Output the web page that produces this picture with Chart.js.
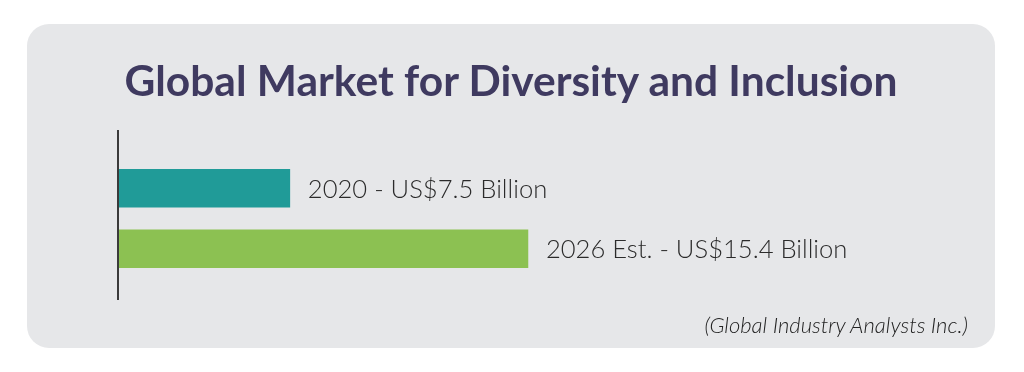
<!DOCTYPE html>
<html>
<head>
<meta charset="utf-8">
<script src="https://cdn.jsdelivr.net/npm/chart.js@4"></script>
<style>
  html, body { margin: 0; padding: 0; background: #fff; }
  body { width: 1024px; height: 372px; position: relative; overflow: hidden; }
  #panel {
    position: absolute; left: 27px; top: 24px; width: 968px; height: 324px;
    background: #e6e7e9; border-radius: 22px;
  }
  #title {
    position: absolute; left: 0; width: 100%; top: 35px; text-align: center;
    font-family: Lato, sans-serif; font-weight: 700; font-size: 42.5px;
    color: #3f3a60; line-height: 1; padding-left: 0;
  }
  #source {
    position: absolute; right: 27px; top: 287px;
    font-family: Lato, sans-serif; font-style: italic; font-weight: 300; font-size: 22px;
    color: #222;
  }
  #chartBox { position: absolute; left: 0; top: 0; width: 968px; height: 324px; }
</style>
</head>
<body>
<div id="panel">
  <div id="chartBox"><canvas id="marketChart"></canvas></div>
  <div id="title">Global Market for Diversity and Inclusion</div>
  <div id="source">(Global Industry Analysts Inc.)</div>
</div>
<script>
var years = ['2020', '2026 Est.'];
var values = [7.5, 15.4];
var barColors = ['#209b98', '#8cc152'];

var xMin = 1.8;
var xMax = 30;

// vertical axis line, runs a bit past the bars like in the original
var axisLine = {
    id: 'axisLine',
    afterDraw: function (chart) {
        var ctx = chart.ctx;
        var area = chart.chartArea;
        var x = chart.scales.x.getPixelForValue(xMin);
        ctx.save();
        ctx.strokeStyle = '#3a3a3a';
        ctx.lineWidth = 2;
        ctx.beginPath();
        ctx.moveTo(x, area.top - 28);
        ctx.lineTo(x, area.bottom + 21);
        ctx.stroke();
        ctx.restore();
    }
};

var barLabels = {
    id: 'barLabels',
    afterDatasetsDraw: function (chart) {
        var ctx = chart.ctx;
        var meta = chart.getDatasetMeta(0);
        ctx.save();
        ctx.font = '300 25.6px Lato, sans-serif';
        ctx.fillStyle = '#2b2b2b';
        ctx.textBaseline = 'middle';
        meta.data.forEach(function (bar, i) {
            var text = years[i] + ' - US$' + values[i] + ' Billion';
            ctx.fillText(text, bar.x + 18, bar.y + 1);
        });
        ctx.restore();
    }
};

var ctx = document.getElementById('marketChart');
new Chart(ctx, {
    type: 'bar',
    data: {
        labels: years,
        datasets: [
            {
                data: values,
                backgroundColor: barColors,
                borderWidth: 0,
                barThickness: 38,
                base: xMin
            }
        ]
    },
    options: {
        indexAxis: 'y',
        responsive: true,
        maintainAspectRatio: false,
        animation: false,
        layout: {
            padding: { left: 91, top: 134, right: 27, bottom: 69 }
        },
        scales: {
            x: { display: false, min: xMin, max: xMax },
            y: { display: false }
        },
        plugins: {
            legend: { display: false },
            tooltip: { enabled: false }
        }
    },
    plugins: [axisLine, barLabels]
});
</script>
</body>
</html>
